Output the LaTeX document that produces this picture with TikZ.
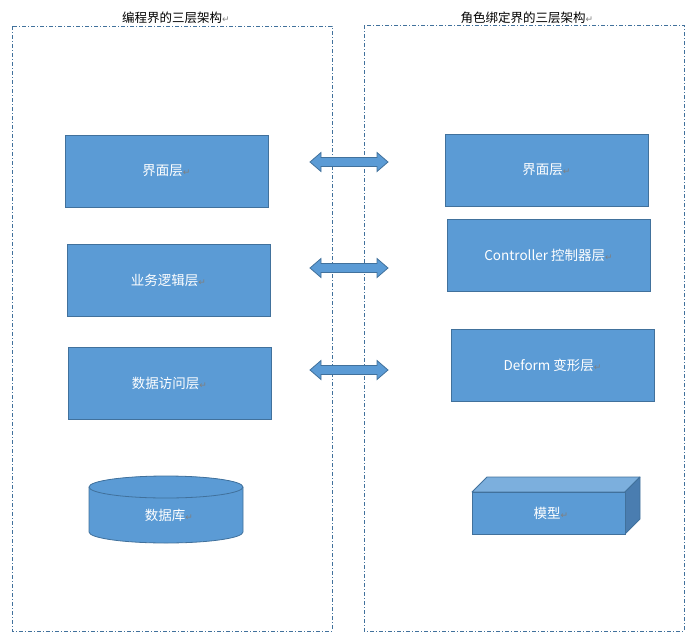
\documentclass[tikz,border=0pt]{standalone}
\usepackage{fontspec}
\setmainfont{Noto Sans CJK SC}
\newfontfamily\symfont{DejaVu Sans}
\definecolor{boxfill}{HTML}{5B9BD5}
\definecolor{boxline}{HTML}{41719C}
\definecolor{topface}{HTML}{7CAFDD}
\definecolor{sideface}{HTML}{4A7DB0}
\newcommand{\ret}{{\symfont\fontsize{9}{9}\selectfont\textcolor{gray}{↵}}}
\tikzset{
  layerbox/.style={draw=boxline, fill=boxfill, line width=0.9pt, minimum width=203pt, minimum height=72pt, inner sep=0pt, text=white, font=\fontsize{13.5}{15}\selectfont},
  frame/.style={draw=boxline, line width=1pt, dash pattern=on 4pt off 2pt on 1pt off 2pt},
  titletext/.style={font=\fontsize{12.5}{14}\selectfont, text=black, inner sep=0pt},
  blockarrow/.style={draw=boxline, fill=boxfill, line width=0.8pt, line join=miter},
  shapetext/.style={text=white, font=\fontsize{13.5}{15}\selectfont, inner sep=0pt}
}
\newcommand{\dblarrow}[2]{%
  \draw[blockarrow] (310,#1) -- (321,#1-9.5) -- (321,#1-4.5) -- (377,#1-4.5) -- (377,#1-9.5) -- (388,#1) -- (377,#1+9.5) -- (377,#1+4.5) -- (321,#1+4.5) -- (321,#1+9.5) -- cycle;
  \coordinate (#2) at (349,#1);}
\begin{document}
\begin{tikzpicture}[x=1pt,y=-1pt]
\useasboundingbox (0,0) rectangle (689,633);
% frames
\draw[frame] (12,26) rectangle (332,631);
\draw[frame] (364,25) rectangle (684,631);
% titles
\node[titletext] (t1) at (176,18) {编程界的三层架构\ret};
\node[titletext] (t2) at (527,18) {角色绑定界的三层架构\ret};
% left boxes
\node[layerbox] (l1) at (166.5,171) {界面层\ret};
\node[layerbox] (l2) at (168.5,280) {业务逻辑层\ret};
\node[layerbox] (l3) at (169.5,383) {数据访问层\ret};
% right boxes
\node[layerbox] (r1) at (546.5,170) {界面层\ret};
\node[layerbox] (r2) at (548.5,255) {Controller 控制器层\ret};
\node[layerbox] (r3) at (552.5,365) {Deform 变形层\ret};
% arrows
\dblarrow{162}{a1}
\dblarrow{268}{a2}
\dblarrow{370}{a3}
% database cylinder
\fill[boxfill] (89,487) -- (89,532) arc[start angle=180, end angle=0, x radius=77, y radius=11] -- (243,487) arc[start angle=0, end angle=-180, x radius=77, y radius=11] -- cycle;
\draw[boxline, line width=0.8pt] (89,487) -- (89,532) arc[start angle=180, end angle=0, x radius=77, y radius=11] -- (243,487);
\draw[boxline, fill=boxfill, line width=0.8pt] (166,487) ellipse[x radius=77, y radius=11];
\node[shapetext] (db) at (169,515) {数据库\ret};
% model cuboid
\draw[boxline, fill=topface, line width=0.8pt, line join=round] (472,492) -- (487,477) -- (640,477) -- (625,492) -- cycle;
\draw[boxline, fill=sideface, line width=0.8pt, line join=round] (625,492) -- (640,477) -- (640,519) -- (625,534) -- cycle;
\draw[boxline, fill=boxfill, line width=0.8pt] (472,492) rectangle (625,534);
\node[shapetext] (model) at (551,513) {模型\ret};
\end{tikzpicture}
\end{document}
